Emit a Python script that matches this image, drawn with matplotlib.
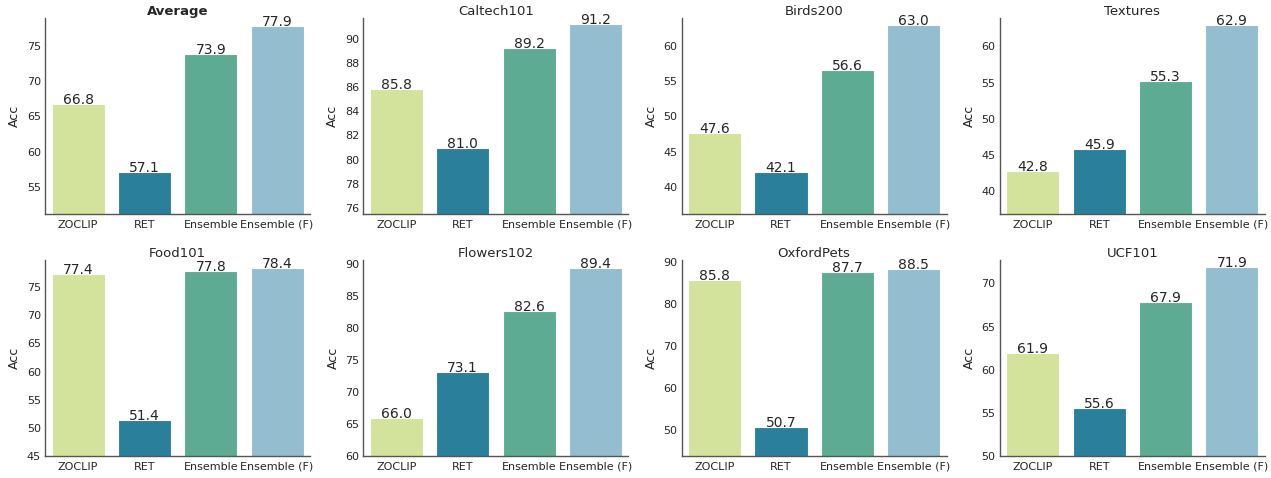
"""
Accuracy of ZOCLIP / RET / Ensemble across datasets, one small bar panel each.
"""
import matplotlib
matplotlib.use("Agg")
import matplotlib.pyplot as plt
from matplotlib.ticker import MultipleLocator
import numpy as np
import seaborn as sns

sns.set_style("white")
plt.rcParams["font.family"] = ["DejaVu Sans"]

methods = ["ZOCLIP", "RET", "Ensemble", "Ensemble (F)"]
datasets = ["Average", "Caltech101", "Birds200", "Textures",
            "Food101", "Flowers102", "OxfordPets", "UCF101"]

average = [66.8, 57.1, 73.9, 77.9]
caltech101 = [85.8, 81.0, 89.2, 91.2]
birds200 = [47.6, 42.1, 56.6, 63.0]
textures = [42.8, 45.9, 55.3, 62.9]
food101 = [77.4, 51.4, 77.8, 78.4]
flowers102 = [66.0, 73.1, 82.6, 89.4]
oxfordpets = [85.8, 50.7, 87.7, 88.5]
ucf101 = [61.9, 55.6, 67.9, 71.9]

# y-range and tick step of each panel
ylims = [(51.1, 79.0), (75.5, 91.7), (36.2, 63.9), (36.9, 63.9),
         (45.0, 79.8), (60.0, 90.6), (43.9, 90.5), (50.0, 72.7)]
ysteps = [5, 2, 5, 5, 5, 5, 10, 5]

colors = ["#d3e39c", "#2a7f9b", "#5eab94", "#94bdd0"]

scores = [average, caltech101, birds200, textures,
          food101, flowers102, oxfordpets, ucf101]

fig, axes = plt.subplots(2, 4, figsize=(12.71, 4.78), dpi=100)
fig.subplots_adjust(left=0.0354, right=0.9953, top=0.962, bottom=0.046,
                    wspace=0.2, hspace=0.236)

x = np.arange(len(methods))
for ax, name, vals, lim, step in zip(axes.flat, datasets, scores, ylims, ysteps):
    ax.bar(x, vals, width=0.8, color=colors, edgecolor="white", linewidth=0.8)
    for xi, v in zip(x, vals):
        ax.text(xi, v, f"{v:.1f}", ha="center", va="baseline",
                fontsize=10, color="#262626")
    ax.set_xticks(x)
    ax.set_xticklabels(methods, fontsize=8)
    ax.yaxis.set_major_locator(MultipleLocator(step))
    ax.tick_params(axis="y", labelsize=8, length=0, pad=3)
    ax.tick_params(axis="x", length=0, pad=4)
    ax.set_xlim(-0.5, 3.5)
    ax.set_ylim(*lim)
    ax.set_ylabel("Acc", fontsize=9)
    if name == "Average":
        ax.set_title(name, fontsize=9.5, fontweight="bold", pad=2)
    else:
        ax.set_title(name, fontsize=9.5, pad=2)
    sns.despine(ax=ax)
    for s in ("left", "bottom"):
        ax.spines[s].set_color("#555555")
        ax.spines[s].set_linewidth(1.0)

fig.savefig("out.png", dpi=100)
